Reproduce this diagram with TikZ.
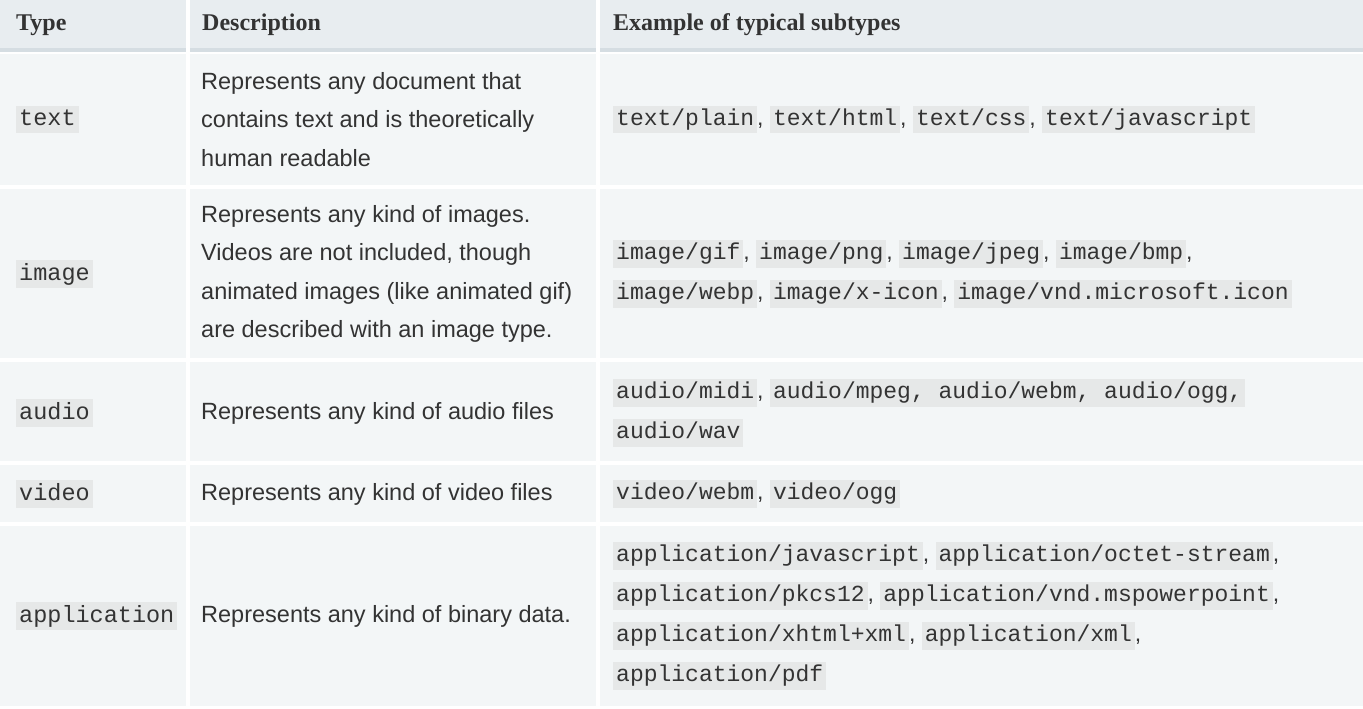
\documentclass[tikz,border=0pt]{standalone}
\usepackage{fontspec}
\setmainfont{Liberation Sans}
\setmonofont{Liberation Mono}
\newfontfamily\hdfont{Liberation Serif}
\usepackage{xcolor}
\definecolor{hdbg}{HTML}{E8EDF0}
\definecolor{hdline}{HTML}{D5DDE2}
\definecolor{cellbg}{HTML}{F3F6F7}
\definecolor{codebg}{HTML}{E6E8E8}
\definecolor{txt}{HTML}{333333}
\newcommand{\cd}[1]{{\setlength{\fboxsep}{3pt}\colorbox{codebg}{\ttfamily\vphantom{Ag/}#1}}}
\tikzset{
  hd/.style={anchor=west,font=\hdfont\bfseries\fontsize{24}{28}\selectfont,text=txt,inner sep=0},
  cell/.style={anchor=west,align=left,font=\fontsize{23.5}{38.5}\selectfont,text=txt,inner sep=0},
  codecell/.style={anchor=west,align=left,font=\fontsize{23}{40}\selectfont,text=txt,inner sep=0},
}
\begin{document}
\begin{tikzpicture}[x=1pt,y=-1pt]
\useasboundingbox (0,0) rectangle (1363,709);
\fill[white] (0,0) rectangle (1363,709);
% header
\foreach \a/\b in {0/186,190/596,600/1363}{
  \fill[hdbg] (\a,0) rectangle (\b,48);
  \fill[hdline] (\a,48) rectangle (\b,52);
}
% body rows
\foreach \t/\u in {54/185,189/358,362/461,465/522,526/706}{
  \foreach \a/\b in {0/186,190/596,600/1363}{
    \fill[cellbg] (\a,\t) rectangle (\b,\u);
  }
}
\node[hd] (h1) at (16,25) {Type};
\node[hd] (h2) at (202,25) {Description};
\node[hd] (h3) at (613,25) {Example of typical subtypes};

\node[cell] (t1) at (16,119.5) {\cd{text}};
\node[cell] (d1) at (201,119.5) {Represents any document that\\contains text and is theoretically\\human readable};
\node[codecell] (e1) at (613,119.5) {\cd{text/plain}, \cd{text/html}, \cd{text/css}, \cd{text/javascript}};

\node[cell] (t2) at (16,274) {\cd{image}};
\node[cell] (d2) at (201,274) {Represents any kind of images.\\Videos are not included, though\\animated images (like animated gif)\\are described with an image type.};
\node[codecell] (e2) at (613,274) {\cd{image/gif}, \cd{image/png}, \cd{image/jpeg}, \cd{image/bmp},\\\cd{image/webp}, \cd{image/x-icon}, \cd{image/vnd.microsoft.icon}};

\node[cell] (t3) at (16,413) {\cd{audio}};
\node[cell] (d3) at (201,413) {Represents any kind of audio files};
\node[codecell] (e3) at (613,413) {\cd{audio/midi}, \cd{audio/mpeg, audio/webm, audio/ogg,}\\\cd{audio/wav}};

\node[cell] (t4) at (16,494) {\cd{video}};
\node[cell] (d4) at (201,494) {Represents any kind of video files};
\node[codecell] (e4) at (613,494) {\cd{video/webm}, \cd{video/ogg}};

\node[cell] (t5) at (16,616) {\cd{application}};
\node[cell] (d5) at (201,616) {Represents any kind of binary data.};
\node[codecell] (e5) at (613,616) {\cd{application/javascript}, \cd{application/octet-stream},\\\cd{application/pkcs12}, \cd{application/vnd.mspowerpoint},\\\cd{application/xhtml+xml}, \cd{application/xml},\\\cd{application/pdf}};
\end{tikzpicture}
\end{document}
